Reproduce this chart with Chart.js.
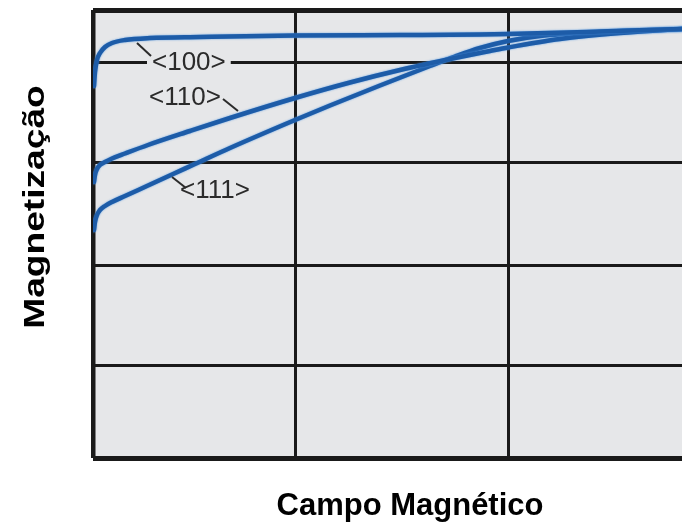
<!DOCTYPE html>
<html>
<head>
<meta charset="utf-8">
<script src="https://cdn.jsdelivr.net/npm/chart.js@4.4.1/dist/chart.umd.min.js"></script>
<style>
  html, body { margin: 0; padding: 0; background: #ffffff; }
  canvas { display: block; }
</style>
</head>
<body>
<canvas id="c" width="682" height="522"></canvas>
<script>
// ---- data (arbitrary units) ----
const field100 = [1, 2, 4, 7, 12, 19, 32, 57, 107, 202, 307, 387, 415, 507, 589];
const mag100   = [372, 386, 398, 405, 411, 415, 418, 420, 421, 422.5, 423, 423.5, 424, 426.5, 429];

const field110 = [1, 2, 4, 7, 12, 19, 32, 55, 97, 137, 202, 257, 307, 362, 397, 415, 467, 527, 589];
const mag110   = [276, 283, 289, 293, 296, 299.5, 304.5, 313, 327, 340, 360, 375.5, 388, 400, 407, 410.5, 419, 425, 429];

const field111 = [1, 2, 4, 7, 12, 19, 32, 55, 79, 102, 137, 202, 237, 287, 337, 362, 387, 415, 447, 507, 589];
const mag111   = [228, 236, 243, 248, 252, 256, 262, 272.5, 283.5, 294, 310, 338, 352.5, 372.5, 392, 401.5, 410, 417, 422, 426, 429];

const seriesNames = ['<100>', '<110>', '<111>'];
const xGridTicks = [0, 202, 415];
const yGridTicks = [0, 93, 193, 296, 396, 448];

// label anchors (left of text, baseline) and leader lines, in data units
const labelX = [59, 56, 87];
const labelY = [388, 353, 260];
const leaderFromX = [44, 130, 79];
const leaderFromY = [415, 359, 281];
const leaderToX = [58, 145, 93];
const leaderToY = [402, 347, 270];

const xTitle = 'Campo Magnético';
const yTitle = 'Magnetização';

function pts(xs, ys) { return xs.map((x, i) => ({ x: x, y: ys[i] })); }

const PLOT_BG = '#e6e7e9';
const GRID = '#1a1a1a';
const BLUE = '#1d5ca8';

const bgPlugin = {
  id: 'plotBg',
  beforeDraw(chart) {
    const { ctx, chartArea: a } = chart;
    ctx.save();
    ctx.fillStyle = PLOT_BG;
    ctx.fillRect(a.left, a.top, a.right - a.left, a.bottom - a.top);
    ctx.restore();
  }
};

const glowPlugin = {
  id: 'glow',
  beforeDatasetDraw(chart) {
    chart.ctx.save();
    chart.ctx.shadowColor = 'rgba(80,150,225,0.9)';
    chart.ctx.shadowBlur = 2;
  },
  afterDatasetDraw(chart) {
    chart.ctx.restore();
  }
};

const labelsPlugin = {
  id: 'labels',
  afterDatasetsDraw(chart) {
    const { ctx, scales: { x, y } } = chart;
    ctx.save();
    ctx.font = '26px "Liberation Sans", Arial, sans-serif';
    ctx.textAlign = 'left';
    ctx.textBaseline = 'alphabetic';
    for (let i = 0; i < seriesNames.length; i++) {
      const px = x.getPixelForValue(labelX[i]);
      const py = y.getPixelForValue(labelY[i]);
      const w = ctx.measureText(seriesNames[i]).width;
      // background patch that interrupts the grid line
      ctx.fillStyle = PLOT_BG;
      ctx.fillRect(px - 5, py - 16, w + 10, 12);
      ctx.fillStyle = '#2b2b2b';
      ctx.fillText(seriesNames[i], px, py);
      ctx.strokeStyle = '#2b2b2b';
      ctx.lineWidth = 2;
      ctx.beginPath();
      ctx.moveTo(x.getPixelForValue(leaderFromX[i]), y.getPixelForValue(leaderFromY[i]));
      ctx.lineTo(x.getPixelForValue(leaderToX[i]), y.getPixelForValue(leaderToY[i]));
      ctx.stroke();
    }
    // axis titles
    ctx.fillStyle = '#000000';
    ctx.font = 'bold 31px "Liberation Sans", Arial, sans-serif';
    ctx.textAlign = 'center';
    ctx.fillText(xTitle, 410, 515);
    ctx.save();
    ctx.translate(44, 207);
    ctx.rotate(-Math.PI / 2);
    ctx.scale(1.28, 1);
    ctx.font = 'bold 29px "Liberation Sans", Arial, sans-serif';
    ctx.fillText(yTitle, 0, 0);
    ctx.restore();
    ctx.restore();
  }
};

function ds(label, xs, ys) {
  return {
    label: label,
    data: pts(xs, ys),
    borderColor: BLUE,
    borderWidth: 4.5,
    pointRadius: 0,
    fill: false,
    cubicInterpolationMode: 'monotone',
    borderCapStyle: 'round',
    borderJoinStyle: 'round'
  };
}

new Chart(document.getElementById('c'), {
  type: 'line',
  data: {
    datasets: [
      ds(seriesNames[0], field100, mag100),
      ds(seriesNames[1], field110, mag110),
      ds(seriesNames[2], field111, mag111)
    ]
  },
  options: {
    responsive: false,
    animation: false,
    layout: { padding: { left: 93, top: 10, right: 0, bottom: 64 } },
    plugins: { legend: { display: false }, tooltip: { enabled: false } },
    scales: {
      x: {
        type: 'linear', min: 0, max: 589,
        afterBuildTicks(s) { s.ticks = xGridTicks.map(v => ({ value: v })); },
        ticks: { display: false },
        border: { display: false },
        grid: {
          drawTicks: false,
          color: GRID,
          lineWidth: c => (c.tick && c.tick.value === 0 ? 4.5 : 3)
        }
      },
      y: {
        type: 'linear', min: 0, max: 448,
        afterBuildTicks(s) { s.ticks = yGridTicks.map(v => ({ value: v })); },
        ticks: { display: false },
        border: { display: false },
        grid: {
          drawTicks: false,
          color: GRID,
          lineWidth: c => (c.tick && (c.tick.value === 0 || c.tick.value === 448) ? 5 : 3)
        }
      }
    }
  },
  plugins: [bgPlugin, glowPlugin, labelsPlugin]
});
</script>
</body>
</html>
